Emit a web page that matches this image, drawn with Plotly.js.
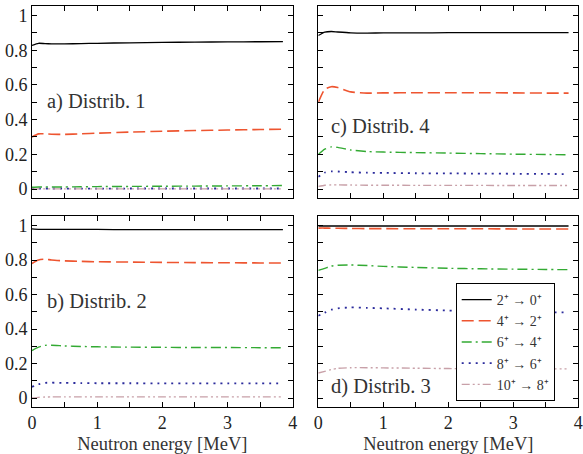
<!DOCTYPE html>
<html>
<head>
<meta charset="utf-8">
<script src="https://cdn.plot.ly/plotly-3.0.1.min.js"></script>
<style>
  html, body { margin: 0; padding: 0; background: #fff; }
  #chart { width: 583px; height: 454px; }
</style>
</head>
<body>
<div id="chart"></div>
<script>
// Neutron energy grid [MeV]
const energy = [0, 0.1, 0.2, 0.3, 0.5, 0.75, 1.0, 1.5, 2.0, 2.5, 3.0, 3.5, 3.85];

// Transition labels
const transitions = [
  '2⁺ → 0⁺',
  '4⁺ → 2⁺',
  '6⁺ → 4⁺',
  '8⁺ → 6⁺',
  '10⁺ → 8⁺'
];

// a) Distrib. 1
const a_2to0  = [0.828, 0.840, 0.838, 0.837, 0.837, 0.838, 0.840, 0.843, 0.845, 0.847, 0.848, 0.849, 0.850];
const a_4to2  = [0.300, 0.318, 0.318, 0.316, 0.315, 0.318, 0.322, 0.328, 0.333, 0.337, 0.340, 0.343, 0.345];
const a_6to4  = [0.010, 0.012, 0.012, 0.012, 0.012, 0.013, 0.014, 0.015, 0.016, 0.017, 0.018, 0.019, 0.020];
const a_8to6  = [0.001, 0.002, 0.002, 0.002, 0.002, 0.002, 0.002, 0.003, 0.003, 0.003, 0.003, 0.003, 0.003];
const a_10to8 = [0.000, 0.001, 0.001, 0.001, 0.001, 0.001, 0.001, 0.001, 0.001, 0.001, 0.001, 0.001, 0.001];

// b) Distrib. 2
const b_2to0  = [0.980, 0.978, 0.977, 0.977, 0.977, 0.977, 0.977, 0.976, 0.976, 0.976, 0.976, 0.976, 0.976];
const b_4to2  = [0.780, 0.800, 0.805, 0.800, 0.795, 0.792, 0.790, 0.788, 0.786, 0.785, 0.784, 0.783, 0.783];
const b_6to4  = [0.275, 0.295, 0.305, 0.306, 0.302, 0.299, 0.297, 0.295, 0.294, 0.293, 0.293, 0.292, 0.292];
const b_8to6  = [0.065, 0.080, 0.088, 0.089, 0.088, 0.087, 0.086, 0.086, 0.085, 0.085, 0.085, 0.085, 0.085];
const b_10to8 = [0.000, 0.004, 0.006, 0.007, 0.007, 0.007, 0.007, 0.007, 0.007, 0.007, 0.007, 0.007, 0.007];

// c) Distrib. 4
const c_2to0  = [0.885, 0.905, 0.908, 0.905, 0.900, 0.899, 0.900, 0.900, 0.901, 0.901, 0.901, 0.901, 0.901];
const c_4to2  = [0.500, 0.575, 0.590, 0.585, 0.560, 0.553, 0.554, 0.555, 0.555, 0.555, 0.554, 0.553, 0.553];
const c_6to4  = [0.200, 0.230, 0.243, 0.240, 0.225, 0.216, 0.213, 0.210, 0.207, 0.204, 0.201, 0.199, 0.197];
const c_8to6  = [0.070, 0.095, 0.102, 0.101, 0.097, 0.094, 0.093, 0.091, 0.090, 0.089, 0.088, 0.087, 0.086];
const c_10to8 = [0.015, 0.022, 0.024, 0.024, 0.023, 0.022, 0.022, 0.021, 0.021, 0.021, 0.020, 0.020, 0.020];

// d) Distrib. 3
const d_2to0  = [0.997, 0.997, 0.997, 0.997, 0.997, 0.997, 0.997, 0.997, 0.997, 0.997, 0.997, 0.997, 0.997];
const d_4to2  = [0.985, 0.985, 0.984, 0.984, 0.983, 0.982, 0.982, 0.981, 0.981, 0.981, 0.980, 0.980, 0.980];
const d_6to4  = [0.740, 0.752, 0.765, 0.770, 0.771, 0.768, 0.763, 0.757, 0.752, 0.749, 0.747, 0.745, 0.744];
const d_8to6  = [0.477, 0.495, 0.512, 0.520, 0.525, 0.523, 0.520, 0.513, 0.507, 0.502, 0.499, 0.497, 0.496];
const d_10to8 = [0.145, 0.155, 0.165, 0.172, 0.176, 0.176, 0.175, 0.173, 0.171, 0.170, 0.170, 0.169, 0.169];

// Panel tags
const panelLabels = ['a) Distrib. 1', 'b) Distrib. 2', 'c) Distrib. 4', 'd) Distrib. 3'];
const xTitle = 'Neutron energy [MeV]';

// Line styles per transition
const styles = [
  { color: '#000000', width: 1.3, dash: 'solid' },
  { color: '#ee5530', width: 1.6, dash: '12px,5px' },
  { color: '#33aa33', width: 1.4, dash: '10px,4px,2px,4px' },
  { color: '#2b2b9c', width: 1.8, dash: '2px,5px' },
  { color: '#c8a0a8', width: 1.4, dash: '8px,3px,2px,3px,2px,3px' }
];

const panels = [
  { series: [a_2to0, a_4to2, a_6to4, a_8to6, a_10to8], xa: 'x',  ya: 'y'  },
  { series: [b_2to0, b_4to2, b_6to4, b_8to6, b_10to8], xa: 'x2', ya: 'y2' },
  { series: [c_2to0, c_4to2, c_6to4, c_8to6, c_10to8], xa: 'x3', ya: 'y3' },
  { series: [d_2to0, d_4to2, d_6to4, d_8to6, d_10to8], xa: 'x4', ya: 'y4' }
];

const traces = [];
panels.forEach((p, pi) => {
  p.series.forEach((vals, si) => {
    traces.push({
      x: energy, y: vals, xaxis: p.xa, yaxis: p.ya,
      type: 'scatter', mode: 'lines', line: Object.assign({ shape: 'spline', smoothing: 0.6 }, styles[si]),
      name: transitions[si], showlegend: pi === 3
    });
  });
});

const W = 583, H = 454;
const font = 'Liberation Serif, serif';
const leftDom = [32 / W, 292.7 / W];
const rightDom = [318.3 / W, 578.3 / W];
const topDom = [(H - 197.7) / H, (H - 6) / H];
const botDom = [(H - 406.7) / H, (H - 216) / H];

function xAxis(domain, anchor, labels) {
  return {
    domain: domain, anchor: anchor, range: [0, 4],
    showgrid: false, zeroline: false, showline: true, linecolor: '#000', linewidth: 1,
    mirror: 'allticks', ticks: 'inside', ticklen: 5, tickcolor: '#000', tickwidth: 1,
    dtick: 1, tick0: 0, showticklabels: labels, ticklabeloverflow: 'allow',
    tickfont: { family: font, size: 18, color: '#222' },
    minor: { dtick: 0.5, ticks: 'inside', ticklen: 5, tickcolor: '#000', showgrid: false },
    title: labels ? { text: xTitle, font: { family: font, size: 18.5, color: '#333' }, standoff: 5 } : { text: '' }
  };
}
function yAxis(domain, anchor, labels) {
  return {
    domain: domain, anchor: anchor, range: [-0.05, 1.055],
    showgrid: false, zeroline: false, showline: true, linecolor: '#000', linewidth: 1,
    mirror: 'allticks', ticks: 'inside', ticklen: 5, tickcolor: '#000', tickwidth: 1,
    tickvals: [0, 0.2, 0.4, 0.6, 0.8, 1], ticktext: ['0', '0.2', '0.4', '0.6', '0.8', '1'],
    showticklabels: labels, ticklabeloverflow: 'allow',
    tickfont: { family: font, size: 18, color: '#222' },
    minor: { tickvals: [0.1, 0.3, 0.5, 0.7, 0.9], ticks: 'inside', ticklen: 5, tickcolor: '#000', showgrid: false }
  };
}

const annoPos = [
  { x: 44.5, y: 101.7 },
  { x: 44.5, y: 301.7 },
  { x: 328.5, y: 126.7 },
  { x: 328.5, y: 386.7 }
];

const layout = {
  width: W, height: H,
  margin: { l: 0, r: 0, t: 0, b: 0 },
  paper_bgcolor: '#fff', plot_bgcolor: '#fff',
  font: { family: font, color: '#222' },
  xaxis:  xAxis(leftDom, 'y', false),
  yaxis:  yAxis(topDom, 'x', true),
  xaxis2: xAxis(leftDom, 'y2', true),
  yaxis2: yAxis(botDom, 'x2', true),
  xaxis3: xAxis(rightDom, 'y3', false),
  yaxis3: yAxis(topDom, 'x3', false),
  xaxis4: xAxis(rightDom, 'y4', true),
  yaxis4: yAxis(botDom, 'x4', false),
  showlegend: true,
  legend: {
    x: 455.7 / W, y: (H - 283) / H, xanchor: 'left', yanchor: 'top',
    bgcolor: '#fff', bordercolor: '#000', borderwidth: 1,
    font: { family: font, size: 14, color: '#333' },
    tracegroupgap: 0, itemwidth: 30
  },
  annotations: panelLabels.map((t, i) => ({
    text: t, xref: 'paper', yref: 'paper',
    x: annoPos[i].x / W, y: (H - annoPos[i].y) / H,
    xanchor: 'left', yanchor: 'middle', showarrow: false,
    font: { family: font, size: 20.5, color: '#333' }
  }))
};

Plotly.newPlot('chart', traces, layout, { staticPlot: true, displayModeBar: false });
</script>
</body>
</html>
